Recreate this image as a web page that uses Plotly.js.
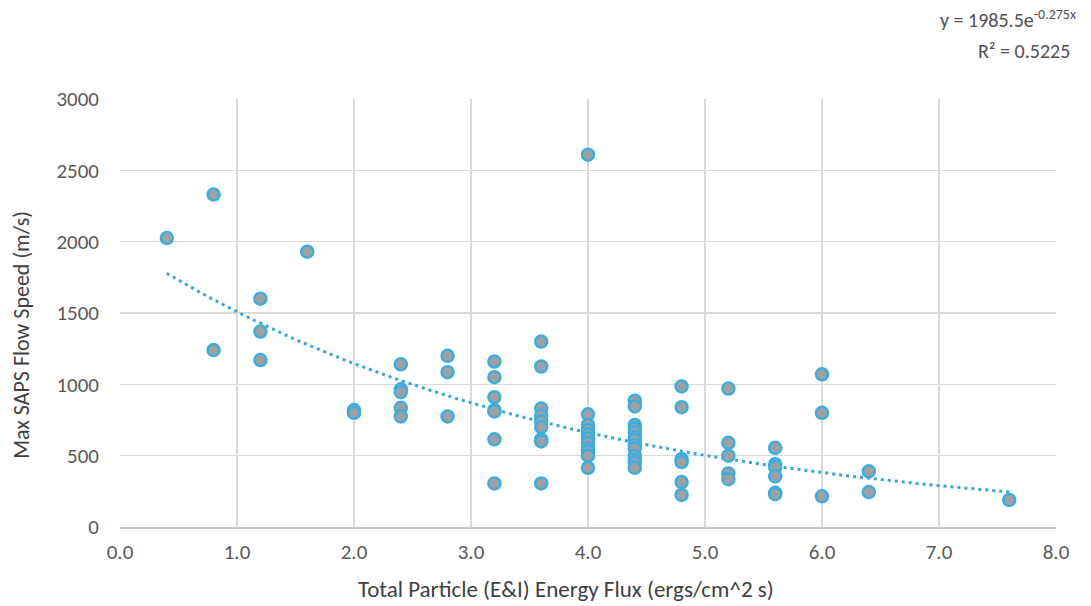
<!DOCTYPE html>
<html>
<head>
<meta charset="utf-8">
<script src="https://cdn.plot.ly/plotly-3.0.1.min.js"></script>
<style>html,body{margin:0;padding:0;background:#fff;}#chart{width:1091px;height:606px;}</style>
</head>
<body>
<div id="chart"></div>
<script>
// Energy flux (ergs/cm^2 s)
const energyFlux = [
  0.4,
  0.8, 0.8,
  1.2, 1.2, 1.2,
  1.6,
  2.0, 2.0,
  2.4, 2.4, 2.4, 2.4, 2.4,
  2.8, 2.8, 2.8,
  3.2, 3.2, 3.2, 3.2, 3.2, 3.2, 3.2,
  3.6, 3.6, 3.6, 3.6, 3.6, 3.6, 3.6, 3.6, 3.6,
  4.0, 4.0, 4.0, 4.0, 4.0, 4.0, 4.0, 4.0, 4.0, 4.0, 4.0,
  4.4, 4.4, 4.4, 4.4, 4.4, 4.4, 4.4, 4.4, 4.4, 4.4, 4.4, 4.4, 4.4,
  4.8, 4.8, 4.8, 4.8, 4.8, 4.8,
  5.2, 5.2, 5.2, 5.2, 5.2,
  5.6, 5.6, 5.6, 5.6, 5.6, 5.6,
  6.0, 6.0, 6.0,
  6.4, 6.4,
  7.6
];
// Max SAPS flow speed (m/s)
const flowSpeed = [
  2025,
  2330, 1240,
  1600, 1370, 1170,
  1930,
  820, 800,
  1140, 965, 945, 835, 775,
  1200, 1085, 775,
  1160, 1050, 910, 820, 810, 615, 305,
  1300, 1125, 830, 780, 740, 700, 615, 600, 305,
  2610, 790, 715, 680, 650, 620, 590, 550, 530, 500, 415,
  885, 845, 715, 690, 665, 630, 610, 575, 550, 500, 470, 450, 415,
  985, 840, 475, 455, 315, 225,
  970, 590, 500, 375, 335,
  555, 440, 420, 355, 240, 230,
  1070, 800, 215,
  390, 245,
  190
];
// Exponential trendline as reported on the chart: y = a * e^(b x)
const trendA = 1985.5;
const trendB = -0.275;
const trendR2 = 0.5225;
const xTickVals = [0, 1, 2, 3, 4, 5, 6, 7, 8];
const xTickText = ["0.0", "1.0", "2.0", "3.0", "4.0", "5.0", "6.0", "7.0", "8.0"];
const yTickVals = [0, 500, 1000, 1500, 2000, 2500, 3000];
const xTitle = 'Total Particle (E&amp;I) Energy Flux (ergs/cm^2 s)';
const yTitle = 'Max SAPS Flow Speed (m/s)';

const xMin = Math.min(...energyFlux), xMax = Math.max(...energyFlux);
const trendX = [], trendY = [];
for (let i = 0; i <= 100; i++) {
  const x = xMin + (xMax - xMin) * i / 100;
  trendX.push(x);
  trendY.push(trendA * Math.exp(trendB * x));
}

const FONT = "Carlito, Lato, 'Open Sans', sans-serif";

const traces = [
  {
    x: trendX, y: trendY, type: 'scatter', mode: 'lines',
    line: {color: '#2ea8e0', width: 3, dash: '3px,4px'},
    hoverinfo: 'skip', showlegend: false
  },
  {
    x: energyFlux, y: flowSpeed, type: 'scatter', mode: 'markers',
    marker: {size: 12, color: '#a0a0a0', line: {color: '#3aaee2', width: 2.5}},
    hoverinfo: 'x+y', showlegend: false
  }
];

const layout = {
  width: 1091, height: 606,
  margin: {l: 120, r: 35, t: 99, b: 79},
  paper_bgcolor: '#ffffff', plot_bgcolor: '#ffffff',
  font: {family: FONT, color: '#595959', size: 18},
  xaxis: {
    range: [0, 8], tickvals: xTickVals, ticktext: xTickText,
    showgrid: true, gridcolor: '#d9d9d9', gridwidth: 1.5,
    zeroline: false, showline: true, linecolor: '#c8c8c8', linewidth: 1.5,
    ticks: '', ticklen: 0, ticklabelstandoff: 5,
    tickfont: {family: FONT, size: 21, color: '#595959'},
    fixedrange: true
  },
  yaxis: {
    range: [0, 3000], tickvals: yTickVals,
    showgrid: true, gridcolor: '#d9d9d9', gridwidth: 1.5,
    zeroline: false, showline: false,
    ticks: '', ticklen: 0, ticklabelstandoff: 20,
    tickfont: {family: FONT, size: 21, color: '#595959'},
    fixedrange: true
  },
  annotations: [
    {
      xref: 'paper', yref: 'paper', x: 0.4765, y: -0.146,
      xanchor: 'center', yanchor: 'middle', showarrow: false,
      text: xTitle, font: {family: FONT, size: 23, color: '#404040'}
    },
    {
      xref: 'paper', yref: 'paper', x: -0.1047, y: 0.449,
      xanchor: 'center', yanchor: 'middle', showarrow: false, textangle: -90,
      text: yTitle, font: {family: FONT, size: 22, color: '#404040'}
    },
    {
      xref: 'paper', yref: 'paper', x: 1.0235, y: 1.1880,
      xanchor: 'right', yanchor: 'middle', align: 'right', showarrow: false,
      text: 'y = ' + trendA.toFixed(1) + 'e<sup>' + trendB + 'x</sup>',
      font: {family: FONT, size: 20, color: '#505050'}
    },
    {
      xref: 'paper', yref: 'paper', x: 1.0171, y: 1.112,
      xanchor: 'right', yanchor: 'middle', align: 'right', showarrow: false,
      text: 'R² = ' + trendR2.toFixed(4),
      font: {family: FONT, size: 20, color: '#505050'}
    }
  ],
  showlegend: false
};

Plotly.newPlot('chart', traces, layout, {displayModeBar: false, staticPlot: true});
</script>
</body>
</html>
